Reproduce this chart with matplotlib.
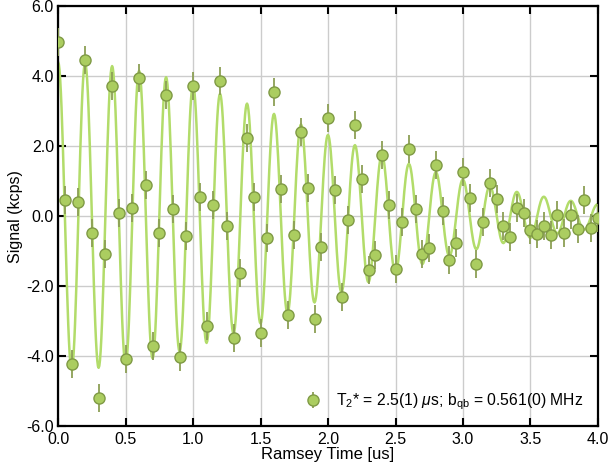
import numpy as np
import matplotlib
matplotlib.use("Agg")
import matplotlib.pyplot as plt

plt.rcParams['font.family'] = ['Liberation Sans', 'DejaVu Sans']
plt.rcParams['mathtext.fontset'] = 'custom'
plt.rcParams['mathtext.rm'] = 'Liberation Sans'
plt.rcParams['mathtext.it'] = 'Liberation Sans:italic'

# Ramsey time points (us) and measured signal (kcps)
t_data = np.arange(0, 81) * 0.05
signal = [4.98, 0.46, -4.24, 0.41, 4.45, -0.48, -5.21, -1.07, 3.73, 0.10,
          -4.08, 0.23, 3.95, 0.90, -3.71, -0.48, 3.45, 0.19, -4.03, -0.57,
          3.73, 0.55, -3.14, 0.33, 3.87, -0.29, -3.48, -1.64, 2.22, 0.54,
          -3.33, -0.62, 3.55, 0.77, -2.83, -0.55, 2.39, 0.81, -2.95, -0.89,
          2.81, 0.74, -2.31, -0.10, 2.60, 1.05, -1.53, -1.10, 1.75, 0.33,
          -1.50, -0.16, 1.93, 0.21, -1.08, -0.90, 1.47, 0.14, -1.25, -0.78,
          1.25, 0.51, -1.38, -0.16, 0.96, 0.49, -0.29, -0.60, 0.22, 0.09,
          -0.40, -0.50, -0.29, -0.55, 0.02, -0.47, 0.04, -0.38, 0.45, -0.34,
          -0.05]
sig_err = 0.4

# fit parameters (damped cosine)
fit_amp = 4.4
fit_t2 = 2.5
fit_freq = 5.0
fit_offset = 0.0

t_fit = np.linspace(0, 4.0, 801)
y_fit = fit_amp * np.exp(-(t_fit / fit_t2) ** 2) * np.cos(2 * np.pi * fit_freq * t_fit) + fit_offset

fig = plt.figure(figsize=(6.12, 4.76), dpi=100)
ax = fig.add_axes([0.095, 0.105, 0.882, 0.882])

ax.plot(t_fit, y_fit, color='#b2dc6a', lw=1.8, zorder=1)
ax.errorbar(t_data, signal, yerr=sig_err, fmt='o', ms=8,
            mfc='#abcd60', mec='#7f9a45', mew=1.0,
            ecolor='#8c9f55', elinewidth=1.3, capsize=0, zorder=3,
            label=r'T$_2$* = 2.5(1) $\mu$s; b$_{\rm qb}$ = 0.561(0) MHz')

ax.set_xlim(0, 4.0)
ax.set_ylim(-6, 6)
ax.set_xticks(np.arange(0, 4.01, 0.5))
ax.set_yticks(np.arange(-6, 6.01, 2))
ax.xaxis.set_major_formatter(matplotlib.ticker.FormatStrFormatter('%.1f'))
ax.yaxis.set_major_formatter(matplotlib.ticker.FuncFormatter(lambda v, p: '%.1f' % v))
ax.grid(True, color='#cccccc', lw=1.0)
ax.set_axisbelow(True)
ax.tick_params(direction='in', length=6, width=1.5, top=True, right=True,
               labelsize=11.5, pad=3)
ax.tick_params(axis='x', pad=4.5)
for s in ax.spines.values():
    s.set_linewidth(1.6)

ax.set_xlabel('Ramsey Time [us]', fontsize=12, labelpad=0)
ax.set_ylabel('Signal (kcps)', fontsize=11.5, labelpad=2)

ax.legend(loc='lower right', frameon=False, fontsize=11.3,
          handletextpad=0.5, borderaxespad=0.5)

fig.savefig('out.png', dpi=100)
